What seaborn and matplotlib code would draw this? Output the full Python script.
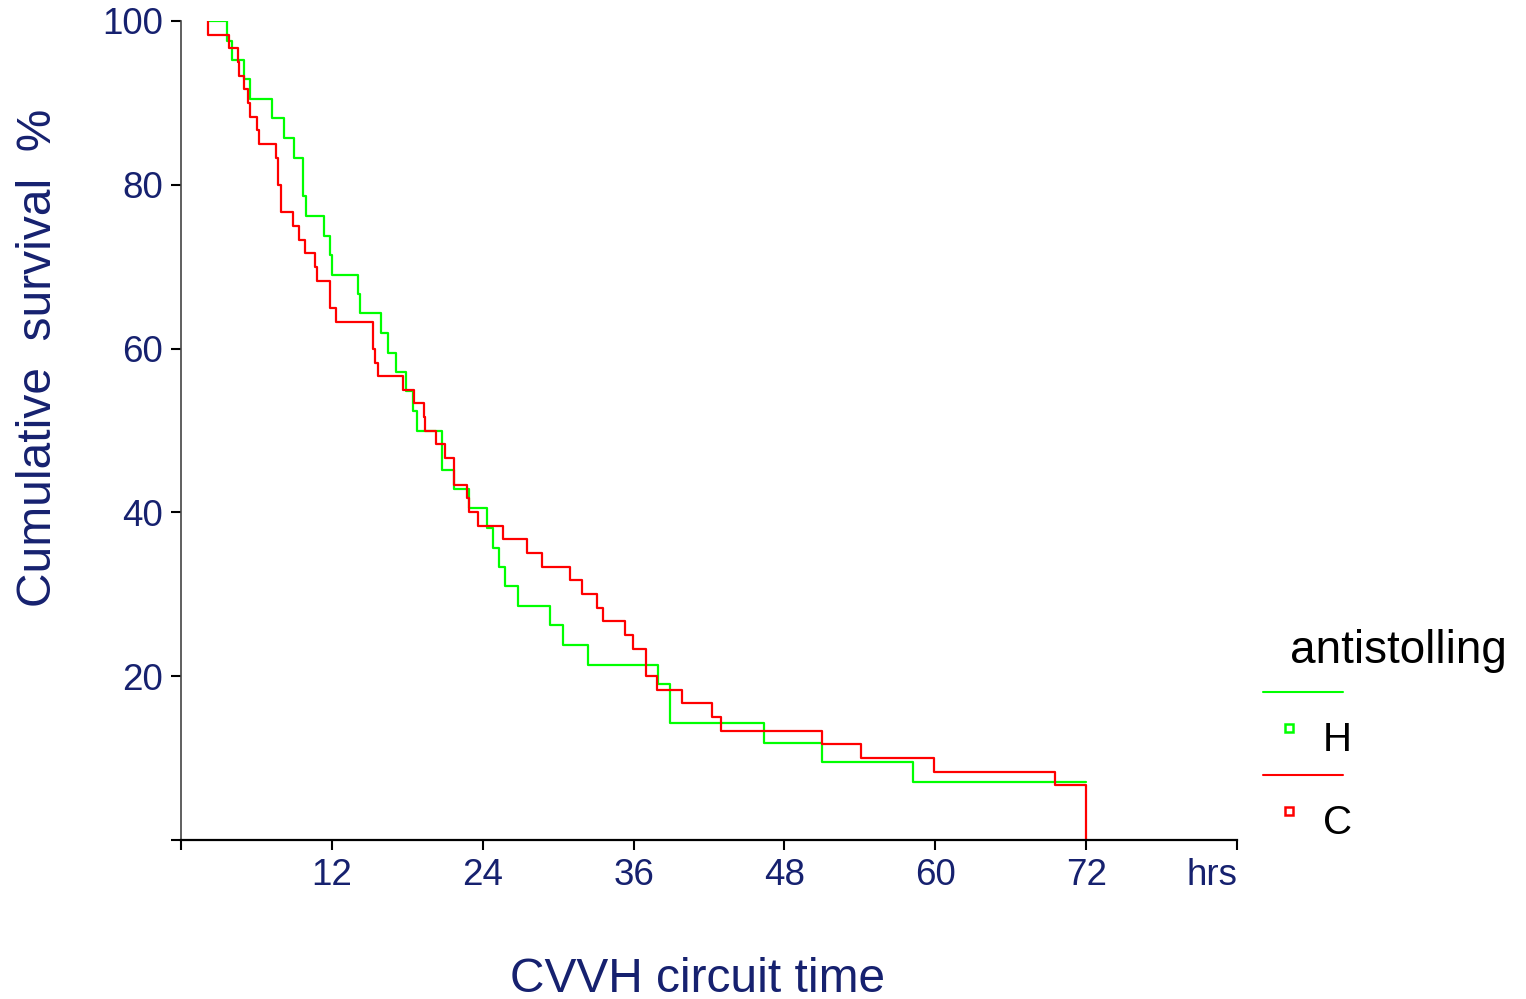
import numpy as np
import pandas as pd
import matplotlib
matplotlib.use("Agg")
import matplotlib.pyplot as plt
import seaborn as sns
from matplotlib.lines import Line2D

# ---- data ----
green_t = [2.23, 3.64, 4.06, 5.02, 5.50, 7.25, 8.20, 9.00, 9.72, 9.92,
           11.37, 11.84, 12.03, 14.07, 14.26, 15.93, 16.46, 17.12, 17.90, 18.48,
           18.80, 20.76, 21.74, 22.94, 24.37, 24.85, 25.33, 25.80, 26.82, 29.39,
           30.40, 32.36, 37.97, 38.87, 46.35, 50.95, 58.26, 72.0]
green_s = [100, 97.6, 95.2, 92.9, 90.5, 88.1, 85.7, 83.3, 78.6, 76.2,
           73.8, 71.4, 69.0, 66.7, 64.3, 61.9, 59.5, 57.1, 54.8, 52.4,
           50.0, 45.2, 42.9, 40.5, 38.1, 35.7, 33.3, 31.0, 28.6, 26.2,
           23.8, 21.4, 19.0, 14.3, 11.9, 9.5, 7.1, 7.1]

red_t = [2.17, 2.17, 3.85, 4.50, 4.62, 5.04, 5.31, 5.52, 6.08, 6.24,
         7.54, 7.70, 7.96, 8.94, 9.42, 9.88, 10.62, 10.83, 11.84, 12.29,
         15.24, 15.47, 15.69, 17.66, 18.56, 19.30, 19.43, 20.28, 20.97, 21.74,
         22.75, 22.94, 23.65, 25.62, 27.53, 28.75, 30.93, 31.86, 33.11, 33.55,
         35.28, 35.97, 36.95, 37.83, 39.82, 42.27, 42.98, 50.97, 54.08, 59.92,
         69.55, 72.0]
red_s = [100, 98.3, 96.7, 95.0, 93.3, 91.7, 90.0, 88.3, 86.7, 85.0,
         83.3, 80.0, 76.7, 75.0, 73.3, 71.7, 70.0, 68.3, 65.0, 63.3,
         60.0, 58.3, 56.7, 55.0, 53.3, 51.7, 50.0, 48.3, 46.7, 43.3,
         41.7, 40.0, 38.3, 36.7, 35.0, 33.3, 31.7, 30.0, 28.3, 26.7,
         25.0, 23.3, 20.0, 18.3, 16.7, 15.0, 13.3, 11.7, 10.0, 8.3,
         6.7, 0]

groups = ["H", "C"]
x_ticks = [0, 12, 24, 36, 48, 60, 72, 84]
x_tick_labels = ["", "12", "24", "36", "48", "60", "72", "hrs"]
y_ticks = [0, 20, 40, 60, 80, 100]
y_tick_labels = ["", "20", "40", "60", "80", "100"]

# ---- styling ----
sns.set_theme(style="white")
plt.rcParams["font.family"] = ["Liberation Sans", "DejaVu Sans"]
navy = "#16216f"
colors = {"H": "#00ff00", "C": "#ff0000"}

df = pd.concat([
    pd.DataFrame({"time": green_t, "surv": green_s, "group": "H"}),
    pd.DataFrame({"time": red_t, "surv": red_s, "group": "C"}),
], ignore_index=True)

fig = plt.figure(figsize=(15.26, 9.99), dpi=100)
W, H = 1526, 999
ax = fig.add_axes([181 / W, (H - 840) / H, 1056 / W, 819 / H])

sns.lineplot(data=df, x="time", y="surv", hue="group", hue_order=groups,
             palette=colors, estimator=None, sort=False, drawstyle="steps-post",
             linewidth=1.6, legend=False, ax=ax)

ax.set_xlim(0, 84)
ax.set_ylim(0, 100)
ax.set_xticks(x_ticks)
ax.set_xticklabels(x_tick_labels)
ax.set_yticks(y_ticks)
ax.set_yticklabels(y_tick_labels)
ax.get_xticklabels()[-1].set_ha("right")

for s in ["top", "right"]:
    ax.spines[s].set_visible(False)
ax.spines["bottom"].set_color("black")
ax.spines["bottom"].set_linewidth(1.6)
ax.spines["left"].set_color("#444444")
ax.spines["left"].set_linewidth(1.2)

ax.tick_params(axis="both", which="major", direction="out", length=7, width=1.5,
               color="black", labelcolor=navy, labelsize=26.5,
               bottom=True, left=True, top=False, right=False)
ax.tick_params(axis="x", pad=6)
ax.tick_params(axis="y", pad=6)

ax.set_xlabel("CVVH circuit time", fontsize=34.5, color=navy)
ax.xaxis.set_label_coords(0.4896, -0.170)
ax.xaxis.label.set_va("center")
ax.set_ylabel("Cumulative  survival  %", fontsize=34.5, color=navy)
ax.yaxis.set_label_coords(-0.1354, 0.5885)
ax.yaxis.label.set_va("center")
ax.grid(False)

# ---- legend (drawn as in the reference: line row, then marker + label row) ----
fig.text(1290 / W, 1 - 663 / H, "antistolling", fontsize=33, color="black", va="baseline")
rows = [("H", 692, 728, 751), ("C", 775, 811, 834)]
for g, ly, my, ty in rows:
    fig.add_artist(Line2D([1263 / W, 1343 / W], [1 - ly / H] * 2, color=colors[g],
                          lw=1.5, transform=fig.transFigure))
    fig.add_artist(Line2D([1289 / W], [1 - my / H], marker="s", ms=6, mfc="none",
                          mec=colors[g], mew=1.8, lw=0, transform=fig.transFigure))
    fig.text(1323 / W, 1 - ty / H, g, fontsize=29, color="black", va="baseline")

fig.savefig("out.png", dpi=100)
